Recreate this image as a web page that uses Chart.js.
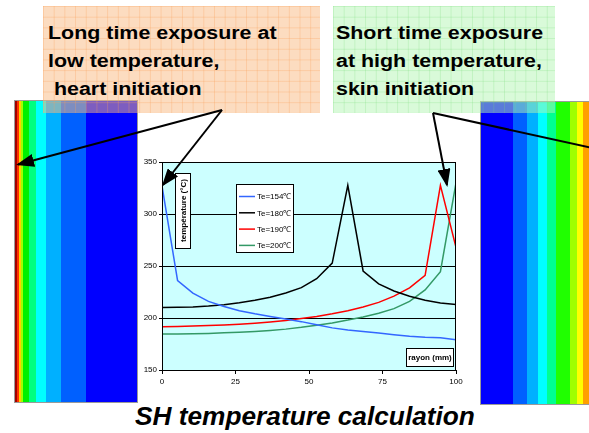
<!DOCTYPE html>
<html>
<head>
<meta charset="utf-8">
<script src="https://cdn.jsdelivr.net/npm/chart.js@4.4.0/dist/chart.umd.min.js"></script>
<style>
  body { margin: 0; width: 589px; height: 433px; background: #fff; position: relative; overflow: hidden;
         font-family: "Liberation Sans", Arial, sans-serif; }
  .bar { position: absolute; border: 1px solid #9a9a9a; box-sizing: border-box; }
  #barL { left: 14px; top: 100px; width: 124px; height: 303px;
    background: linear-gradient(to right,
      #a00000 0 2px, #ff3000 2px 4px, #ffd000 4px 6px, #a0ff00 6px 8px,
      #00f000 8px 14px, #00ff80 14px 21px, #00ffff 21px 31px,
      #00b0ff 31px 46px, #0060ff 46px 71px, #0000ff 71px); }
  #barR { left: 480px; top: 101px; width: 130px; height: 304px;
    background: linear-gradient(to right,
      #0000ff 0 32px, #0060ff 32px 46px, #00b0ff 46px 57px, #00ffff 57px 66px,
      #00ff90 66px 75px, #20ff00 75px 89px, #a0ff00 89px 96px, #ffff00 96px 102px,
      #ffa000 102px); }
  .note { position: absolute; top: 6px; height: 107px; box-sizing: border-box;
          background-size: 10.7px 10.7px; }
  #noteL { left: 43px; width: 277px; background-color: rgba(250,185,130,0.5);
    background-image: linear-gradient(to right, rgba(250,160,90,0.3) 1px, transparent 1px),
                      linear-gradient(to bottom, rgba(250,160,90,0.3) 1px, transparent 1px); }
  #noteR { left: 333px; width: 222px; background-color: rgba(180,245,180,0.5);
    background-image: linear-gradient(to right, rgba(120,220,120,0.25) 1px, transparent 1px),
                      linear-gradient(to bottom, rgba(120,220,120,0.25) 1px, transparent 1px); }
  .txt { position: absolute; top: 19px; font-weight: bold; font-size: 18px; line-height: 28px;
         white-space: pre; color: #000; transform: scaleX(1.19); transform-origin: 0 0; }
  #chartBox { position: absolute; left: 138px; top: 150px; width: 342px; height: 245px; }
  #title { position: absolute; left: 135px; top: 404px; font-size: 25px; line-height: 25px;
           font-weight: bold; font-style: italic; white-space: pre;
           transform: scaleX(1.05); transform-origin: 0 0; }
  #arrows { position: absolute; left: 0; top: 0; }
</style>
</head>
<body>
<div class="bar" id="barL"></div>
<div class="bar" id="barR"></div>
<div class="note" id="noteL"></div>
<div class="note" id="noteR"></div>
<div class="txt" style="left:48px">Long time exposure at
low temperature,
 heart initiation</div>
<div class="txt" style="left:336px">Short time exposure
at high temperature,
skin initiation</div>
<div id="chartBox"><canvas id="chart"></canvas></div>
<div id="title">SH temperature calculation</div>
<svg id="arrows" width="589" height="433">
  <defs>
    <marker id="head" markerUnits="userSpaceOnUse" markerWidth="18" markerHeight="13"
            refX="16" refY="6.5" orient="auto">
      <path d="M0,0 L18,6.5 L0,13 Z" fill="#000"/>
    </marker>
  </defs>
  <g stroke="#000" stroke-width="2" fill="none">
    <line x1="222" y1="110" x2="18" y2="164.5" marker-end="url(#head)"/>
    <line x1="222" y1="110" x2="163" y2="185" marker-end="url(#head)"/>
    <line x1="433" y1="113" x2="447" y2="185" marker-end="url(#head)"/>
    <line x1="433" y1="113" x2="620" y2="154" marker-end="url(#head)"/>
  </g>
</svg>
<script>
// rayon (mm)
const rayon = [0, 5.3, 10.5, 15.8, 21.1, 26.3, 31.6, 36.8, 42.1, 47.4,
               52.6, 57.9, 63.2, 68.4, 73.7, 78.9, 84.2, 89.5, 94.7, 100];
// température (°C)
const te154 = [327, 236, 224, 216, 211, 207, 204, 201.5, 199, 196.5,
               193.5, 190.5, 188.5, 187, 185.5, 184, 182.5, 181.5, 181, 179];
const te180 = [210, 210.3, 210.6, 211.5, 212.8, 214.7, 217, 220, 224, 229.2,
               237.8, 252.8, 327.5, 245.2, 232.8, 226, 221, 217, 214.5, 213];
const te190 = [191.5, 191.8, 192.2, 192.7, 193.3, 194, 195, 196.2, 197.7, 199.5,
               201.5, 204, 207, 210.5, 215, 221, 229, 241, 327.5, 268];
const te200 = [184.5, 184.6, 184.8, 185.2, 185.7, 186.3, 187, 188, 189.3, 191,
               193, 195.3, 198, 201, 204.5, 209, 216, 227, 244.5, 330];
const seriesLabels = ['Te=154℃', 'Te=180℃', 'Te=190℃', 'Te=200℃'];
const seriesColors = ['#3366ff', '#000000', '#ff0000', '#339966'];
const yTicks = [150, 200, 250, 300, 350];
const xTicks = [0, 25, 50, 75, 100];

const FONT = '"Liberation Sans", Arial, sans-serif';

const pts = vals => vals.map((v, i) => ({ x: rayon[i], y: v }));

const decor = {
	id: 'decor',
	beforeDraw(chart) {
		const { ctx, chartArea: a } = chart;
		ctx.save();
		ctx.fillStyle = '#ccffff';
		ctx.fillRect(a.left, a.top, a.right - a.left, a.bottom - a.top);
		ctx.restore();
	},
	afterDatasetsDraw(chart) {
		const { ctx, chartArea: a } = chart;
		ctx.save();
		ctx.strokeStyle = '#000';
		ctx.lineWidth = 1;
		ctx.strokeRect(a.left + 0.5, a.top + 0.5, a.right - a.left - 1, a.bottom - a.top);

		// y title box
		const yb = { x: a.left + 13, y: a.top + 11, w: 15, h: 75 };
		ctx.fillStyle = '#fff';
		ctx.fillRect(yb.x, yb.y, yb.w, yb.h);
		ctx.strokeRect(yb.x + 0.5, yb.y + 0.5, yb.w, yb.h);
		ctx.fillStyle = '#000';
		ctx.font = 'bold 8px ' + FONT;
		ctx.textAlign = 'center';
		ctx.textBaseline = 'middle';
		ctx.save();
		ctx.translate(yb.x + yb.w / 2 + 1, yb.y + yb.h / 2);
		ctx.rotate(-Math.PI / 2);
		ctx.fillText('température (°C)', 0, 0);
		ctx.restore();

		// x title box
		const xb = { x: a.right - 50, y: a.bottom - 22, w: 47, h: 18 };
		ctx.fillStyle = '#fff';
		ctx.fillRect(xb.x, xb.y, xb.w, xb.h);
		ctx.strokeRect(xb.x + 0.5, xb.y + 0.5, xb.w, xb.h);
		ctx.fillStyle = '#000';
		ctx.fillText('rayon (mm)', xb.x + xb.w / 2 + 0.5, xb.y + xb.h / 2 + 1);

		// legend
		const lb = { x: a.left + 74, y: a.top + 22, w: 57, h: 68 };
		ctx.fillStyle = '#fff';
		ctx.fillRect(lb.x, lb.y, lb.w, lb.h);
		ctx.strokeRect(lb.x + 0.5, lb.y + 0.5, lb.w, lb.h);
		ctx.font = '8px ' + FONT;
		ctx.textAlign = 'left';
		chart.data.datasets.forEach((ds, i) => {
			const y = lb.y + 12.5 + i * 16.3;
			ctx.strokeStyle = ds.borderColor;
			ctx.lineWidth = 1.5;
			ctx.beginPath();
			ctx.moveTo(lb.x + 3, y);
			ctx.lineTo(lb.x + 19, y);
			ctx.stroke();
			ctx.fillStyle = '#000';
			ctx.fillText(ds.label, lb.x + 21, y + 0.5);
		});
		ctx.restore();
	}
};

new Chart(document.getElementById('chart'), {
	type: 'line',
	data: {
		datasets: [te154, te180, te190, te200].map((vals, i) => ({
			label: seriesLabels[i],
			data: pts(vals),
			borderColor: seriesColors[i],
			borderWidth: 1.5,
			pointRadius: 0,
			tension: 0,
			fill: false
		}))
	},
	options: {
		responsive: true,
		maintainAspectRatio: false,
		animation: false,
		events: [],
		layout: { padding: { left: 0, right: 24, top: 12, bottom: 0 } },
		plugins: { legend: { display: false }, tooltip: { enabled: false } },
		scales: {
			x: {
				type: 'linear',
				min: 0, max: 100,
				afterBuildTicks: axis => { axis.ticks = xTicks.map(v => ({ value: v })); },
				afterFit: axis => { axis.height = 25; },
				grid: { drawOnChartArea: false, drawTicks: true, tickLength: 4, color: '#000' },
				border: { display: true, color: '#000' },
				ticks: { color: '#000', font: { family: FONT, size: 8 }, padding: 3, maxRotation: 0 }
			},
			y: {
				min: 150, max: 350,
				afterBuildTicks: axis => { axis.ticks = yTicks.map(v => ({ value: v })); },
				afterFit: axis => { axis.width = 24; },
				grid: { color: '#000', tickLength: 3 },
				border: { display: true, color: '#000' },
				ticks: { color: '#000', font: { family: FONT, size: 8 }, padding: 2 }
			}
		}
	},
	plugins: [decor]
});
</script>
</body>
</html>
